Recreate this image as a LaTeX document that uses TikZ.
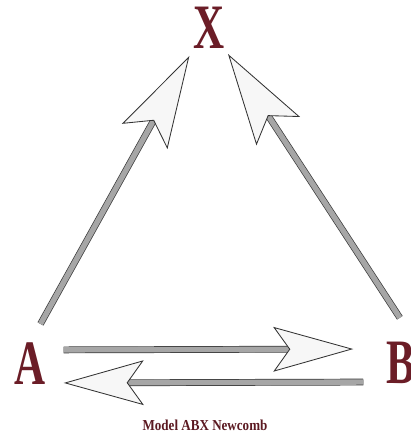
\documentclass[tikz,border=0pt]{standalone}
\usepackage[dvipsnames]{xcolor}
\usepackage{fontspec}
\setmainfont{Liberation Serif}
\usepackage{tikz}
\usetikzlibrary{arrows.meta,positioning,calc}
\definecolor{abxmaroon}{HTML}{6B1D27}

\begin{document}
\begin{tikzpicture}[x=0.025cm,y=-0.025cm,
    letter/.style={inner sep=0pt,text=abxmaroon,font=\fontsize{45}{45}\selectfont\bfseries,xscale=0.68},
    shaft/.style={draw=gray!45!black,line width=0.5pt,double=gray!70,double distance=3.8pt},
    bighead/.style={draw=gray!70,line width=0.6pt,-{Stealth[length=2.3cm,width=1.3cm,inset=0.45cm,color=gray!40!black,fill=gray!6,line width=0.6pt]}},
    smallhead/.style={draw=gray!70,line width=0.6pt,-{Stealth[length=2cm,width=1.12cm,inset=0.4cm,color=gray!40!black,fill=gray!6,line width=0.6pt]}}
  ]
    \useasboundingbox[fill=white] (0,0) rectangle (411,441);
    \node[letter] (X) at (209,28) {X};
    \node[letter] (A) at (30,364) {A};
    \node[letter] (B) at (401,363) {B};
    \node[inner sep=0pt,text=abxmaroon!85!black,font=\fontsize{10.8}{12}\selectfont\bfseries,xscale=0.86] (cap) at (205,425) {Model ABX Newcomb};
    % shafts
    \draw[shaft,shorten <=0.54cm,shorten >=1.9cm] (A.north) -- (X.south west);
    \draw[shaft,shorten <=0.72cm,shorten >=1.85cm] (B.north east) -- (X.south east);
    \draw[shaft,shorten <=0.45cm,shorten >=2.3cm] ([yshift=10pt]A.east) -- ([yshift=10pt]B.west);
    \draw[shaft,shorten <=0.58cm,shorten >=1.9cm] ([yshift=-13.5pt]B.west) -- ([yshift=-13.5pt]A.east);
    % heads
    \draw[bighead,shorten <=0.54cm,shorten >=0.2cm] (A.north) -- (X.south west);
    \draw[bighead,shorten <=0.72cm,shorten >=0.15cm] (B.north east) -- (X.south east);
    \draw[smallhead,shorten <=0.45cm,shorten >=0.83cm] ([yshift=10pt]A.east) -- ([yshift=10pt]B.west);
    \draw[smallhead,shorten <=0.58cm,shorten >=0.45cm] ([yshift=-13.5pt]B.west) -- ([yshift=-13.5pt]A.east);
\end{tikzpicture}
\end{document}
